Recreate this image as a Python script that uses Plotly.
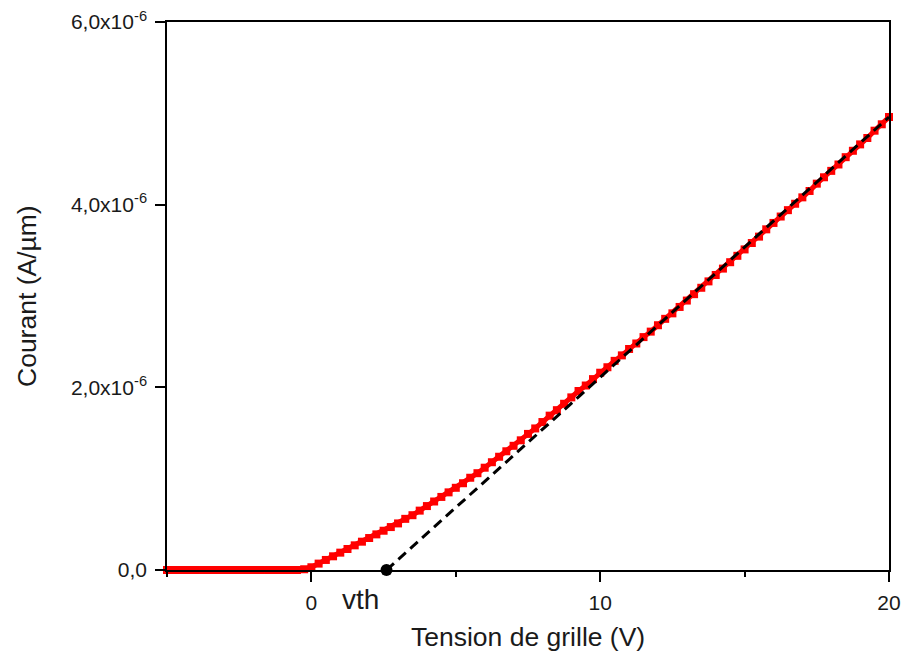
import numpy as np
import plotly.graph_objects as go

# Gate voltage sweep (V), 0.25 V step
tension_v = np.round(np.arange(-5.0, 20.0 + 1e-9, 0.25), 2)

# Drain current (in units of 1e-6 A/um)
courant_flat = [0.0] * 19  # -5.00 ... -0.50 V
courant_on = [
    0.008, 0.03, 0.07, 0.11, 0.15, 0.19, 0.23, 0.27, 0.31, 0.35,
    0.39, 0.43, 0.47, 0.51, 0.56, 0.60, 0.65, 0.70, 0.75, 0.80,
    0.85, 0.90, 0.95, 1.01, 1.06, 1.12, 1.18, 1.24, 1.30, 1.36,
    1.42, 1.49, 1.55, 1.62, 1.69, 1.75, 1.82, 1.89, 1.96, 2.02,
    2.09, 2.16, 2.22, 2.29, 2.35, 2.42, 2.48, 2.55, 2.61, 2.68,
    2.75, 2.81, 2.88, 2.95, 3.02, 3.09, 3.16, 3.23, 3.30, 3.37,
    3.44, 3.51, 3.58, 3.65, 3.73, 3.80, 3.87, 3.94, 4.01, 4.08,
    4.15, 4.23, 4.30, 4.37, 4.44, 4.52, 4.59, 4.66, 4.73, 4.81,
    4.88, 4.96,
]
courant = np.array(courant_flat + courant_on) * 1e-6
assert len(courant) == len(tension_v)

# Linear extrapolation used to extract the threshold voltage
vth = 2.6
extrap_v = [vth, 20.0]
extrap_i = [0.0, 4.96e-6]

# Axis ticks
x_major = [0, 10, 20]
x_major_text = ["0", "10", "20"]
y_major = [0, 2e-6, 4e-6, 6e-6]
y_major_text = ["0,0", "2,0x10<sup>-6</sup>", "4,0x10<sup>-6</sup>", "6,0x10<sup>-6</sup>"]

font_family = "Liberation Sans, Arial, sans-serif"
text_color = "#1a1a1a"

fig = go.Figure()

fig.add_trace(go.Scatter(
    x=tension_v, y=courant, mode="lines+markers",
    line=dict(color="#ff0000", width=5),
    marker=dict(symbol="square", size=8, color="#ff0000", line=dict(width=0)),
    cliponaxis=False, showlegend=False,
))

fig.add_trace(go.Scatter(
    x=extrap_v, y=extrap_i, mode="lines",
    line=dict(color="black", width=3, dash="10px,6px"),
    cliponaxis=False, showlegend=False,
))

fig.add_trace(go.Scatter(
    x=[vth], y=[0.0], mode="markers",
    marker=dict(symbol="circle", size=12, color="black"),
    cliponaxis=False, showlegend=False,
))

# Threshold label below the axis
fig.add_annotation(
    x=1.7, xref="x", y=-29 / 548, yref="paper", yanchor="middle", text="vth",
    showarrow=False, font=dict(family=font_family, size=28, color=text_color),
)

# Axis titles
fig.add_annotation(
    x=0.5, xref="paper", y=-67 / 548, yref="paper", yanchor="middle",
    text="Tension de grille (V)", showarrow=False,
    font=dict(family=font_family, size=26.5, color=text_color),
)
fig.add_annotation(
    x=-140 / 722, xref="paper", y=0.5, yref="paper", xanchor="center", yanchor="middle",
    text="Courant (A/µm)", textangle=-90, showarrow=False,
    font=dict(family=font_family, size=26.5, color=text_color),
)

fig.update_xaxes(
    range=[-5, 20], tickmode="array", tickvals=x_major, ticktext=x_major_text,
    ticks="outside", ticklen=10, tickwidth=1.5, tickcolor="black",
    minor=dict(tickvals=[-5, 5, 15], ticks="outside", ticklen=5, tickwidth=1.5, tickcolor="black"),
    showline=True, linecolor="black", linewidth=1.5, mirror=True,
    showgrid=False, zeroline=False, automargin=False, ticklabelstandoff=3,
    tickfont=dict(family=font_family, size=21, color=text_color),
)

fig.update_yaxes(
    range=[0, 6e-6], tickmode="array", tickvals=y_major, ticktext=y_major_text,
    ticks="outside", ticklen=10, tickwidth=1.5, tickcolor="black",
    showline=True, linecolor="black", linewidth=1.5, mirror=True,
    showgrid=False, zeroline=False, automargin=False, ticklabelstandoff=4,
    tickfont=dict(family=font_family, size=21, color=text_color),
)

fig.update_layout(
    width=901, height=659,
    margin=dict(l=167, r=12, t=22, b=89),
    paper_bgcolor="white", plot_bgcolor="white",
)

fig.write_html("out.html")
